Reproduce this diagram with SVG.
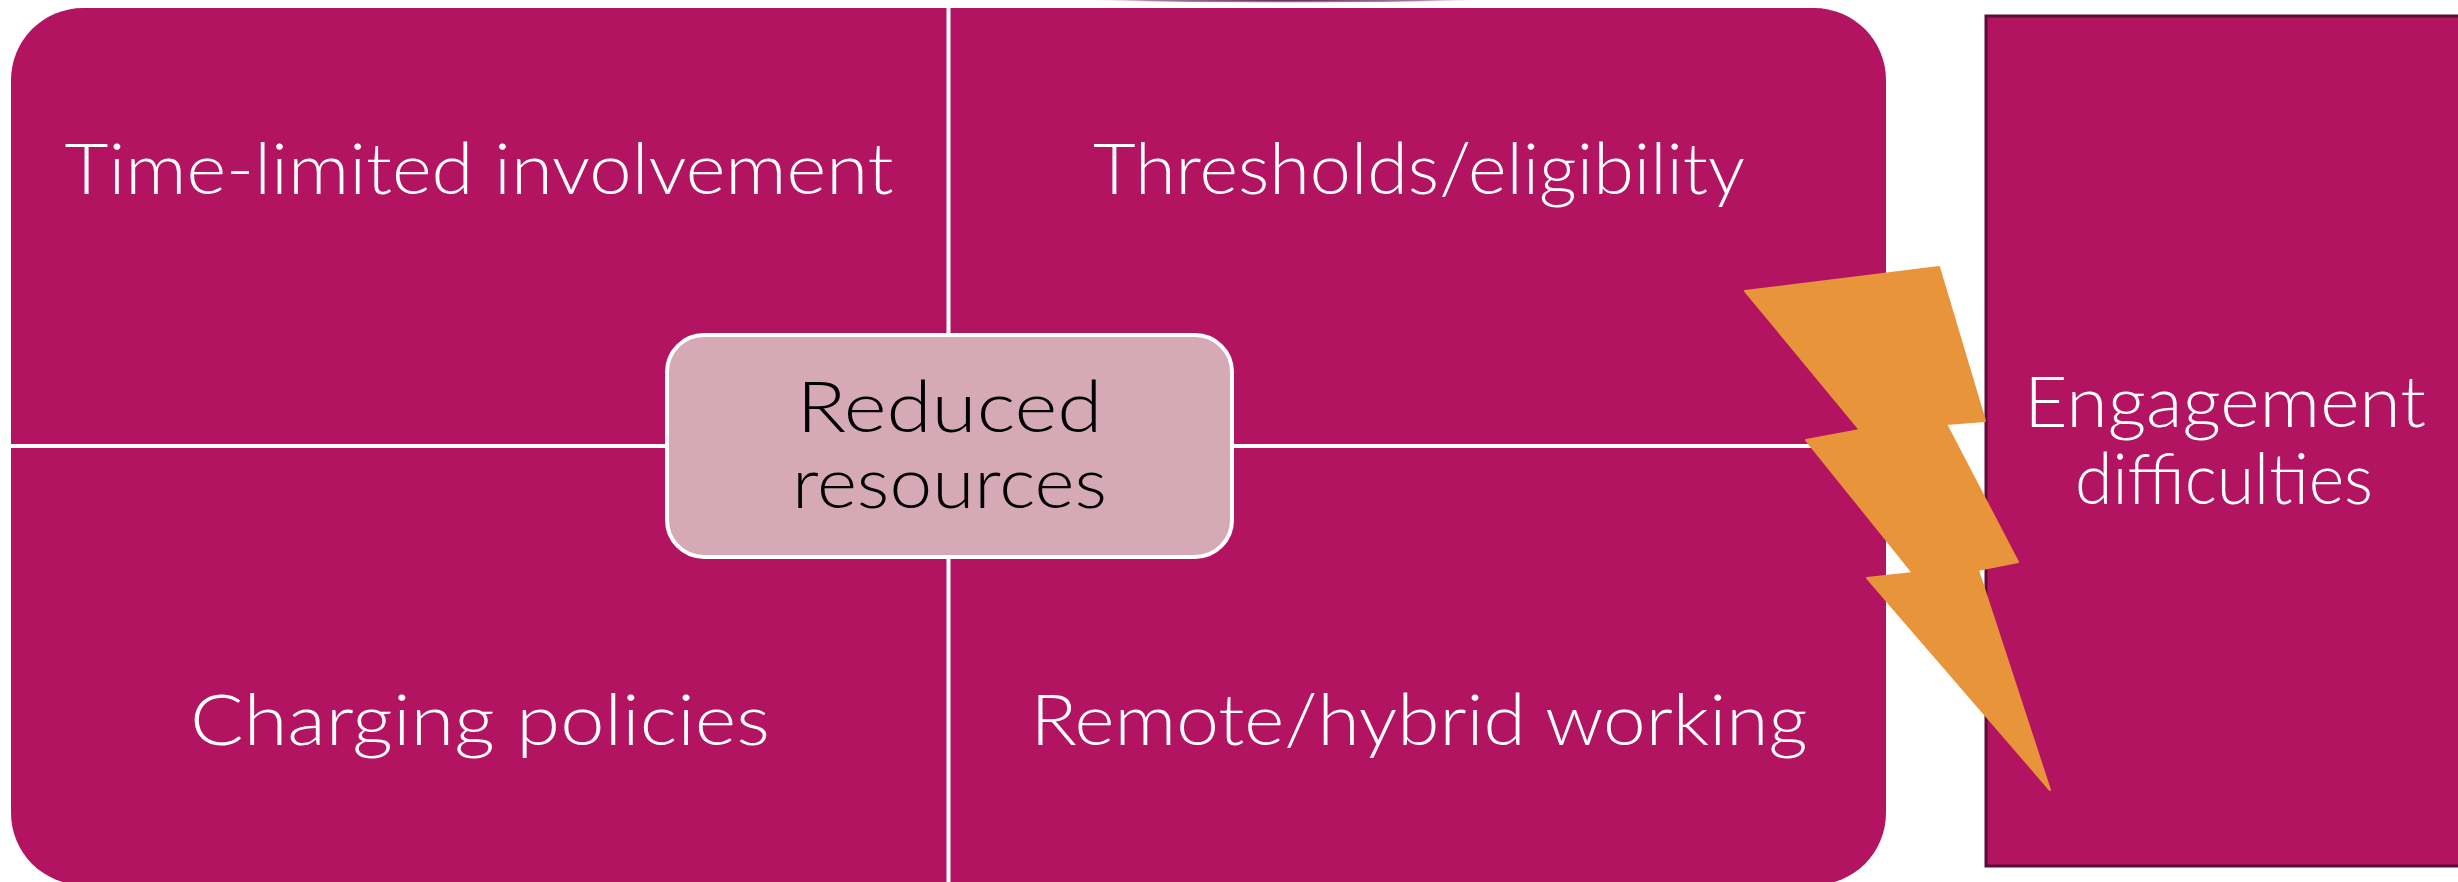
<svg xmlns="http://www.w3.org/2000/svg" width="2458" height="882" viewBox="0 0 2458 882">
  <defs>
    <radialGradient id="shadow" cx="0.5" cy="0.5" r="0.5">
      <stop offset="0" stop-color="#5a1640" stop-opacity="1"/>
      <stop offset="0.7" stop-color="#7a2a5c" stop-opacity="0.6"/>
      <stop offset="1" stop-color="#ffffff" stop-opacity="0"/>
    </radialGradient>
  </defs>
  <style>
    .q { fill: #B31462; }
    .div { stroke: #ffffff; stroke-width: 4; fill: none; }
    .lbl { font-family: Lato, "Liberation Sans", sans-serif; font-weight: 300; font-size: 71px; fill: #ffffff; text-anchor: middle; }
    .dark { fill: #000000; }
  </style>
  <rect width="2458" height="882" fill="#ffffff"/>
  <ellipse cx="1285" cy="0" rx="200" ry="3" fill="url(#shadow)"/>

  <g id="matrix">
    <rect class="q" x="11" y="8" width="1875" height="877" rx="72" ry="72"/>
  </g>
  <g id="connectors">
    <line class="div" x1="948.5" y1="8" x2="948.5" y2="885"/>
    <line class="div" x1="11" y1="446" x2="1886" y2="446"/>
  </g>
  <g id="q-time-limited">
    <text class="lbl" x="479" y="194" textLength="829" lengthAdjust="spacingAndGlyphs">Time-limited involvement</text>
  </g>
  <g id="q-thresholds">
    <text class="lbl" x="1419" y="194" textLength="652" lengthAdjust="spacingAndGlyphs">Thresholds/eligibility</text>
  </g>
  <g id="q-charging">
    <text class="lbl" x="480" y="745" textLength="580" lengthAdjust="spacingAndGlyphs">Charging policies</text>
  </g>
  <g id="q-remote">
    <text class="lbl" x="1419" y="745" textLength="777" lengthAdjust="spacingAndGlyphs">Remote/hybrid working</text>
  </g>
  <g id="center">
    <rect x="667" y="335" width="565" height="222" rx="37" ry="37" fill="#D5A9B6" stroke="#ffffff" stroke-width="4"/>
    <text class="lbl dark" x="949.5" y="432" textLength="306" lengthAdjust="spacingAndGlyphs">Reduced</text>
    <text class="lbl dark" x="949.5" y="508" textLength="315" lengthAdjust="spacingAndGlyphs">resources</text>
  </g>
  <g id="engagement">
    <rect x="1986" y="16" width="500" height="850" fill="#B31462" stroke="#5C0B34" stroke-width="3"/>
    <text class="lbl" x="2225" y="427" textLength="402" lengthAdjust="spacingAndGlyphs">Engagement</text>
    <text class="lbl" x="2224" y="504" textLength="298" lengthAdjust="spacingAndGlyphs">difficulties</text>
  </g>
  <g id="bolt">
    <polygon points="1745,291 1939,267 1985,421 1946,424 2018,562 1978,570 2050,790 1867,578 1913,573 1806,440 1860,430" fill="#E8943B" stroke="#E8943B" stroke-width="2" stroke-linejoin="round"/>
  </g>
</svg>
